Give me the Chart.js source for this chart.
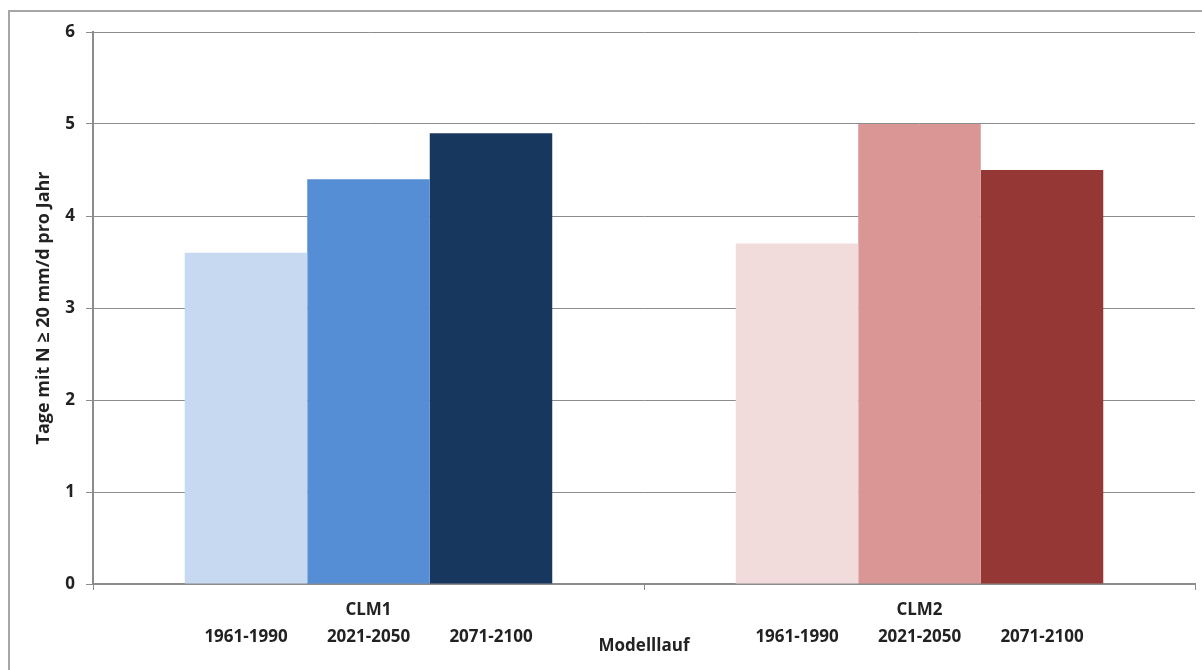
<!DOCTYPE html>
<html>
<head>
<meta charset="utf-8">
<script src="https://cdn.jsdelivr.net/npm/chart.js@4"></script>
<style>
    html, body { margin: 0; padding: 0; background: #fff; overflow: hidden; }
    #frame { position: absolute; left: 8px; top: 10px; width: 1400px; height: 800px; border: 2px solid #a6a6a6; box-sizing: border-box; }
    #wrap { position: absolute; left: 0; top: 0; width: 1202px; height: 670px; }
</style>
</head>
<body>
<div id="frame"></div>
<div id="wrap"><canvas id="chart" width="1202" height="670"></canvas></div>
<script>
    const models = ['CLM1', 'CLM2'];
    const periods = ['1961-1990', '2021-2050', '2071-2100'];
    const values1961 = [3.6, 3.7];
    const values2021 = [4.4, 5.0];
    const values2071 = [4.9, 4.5];
    const blues = ['#C6D9F1', '#558ED5', '#17375E'];
    const reds = ['#F2DCDB', '#D99694', '#953735'];

    const font = 'Open Sans';
    const textColor = '#222';
    const lineColor = '#8c8c8c';

    // period labels under each bar, placed from the bar elements
    const periodLabels = {
        id: 'periodLabels',
        afterDraw(chart) {
            const ctx = chart.ctx;
            ctx.save();
            ctx.font = 'bold 17px "' + font + '"';
            ctx.fillStyle = textColor;
            ctx.textAlign = 'center';
            ctx.textBaseline = 'middle';
            chart.data.datasets.forEach((ds, i) => {
                chart.getDatasetMeta(i).data.forEach(bar => {
                    ctx.fillText(ds.label, bar.x, 637);
                });
            });
            ctx.restore();
        }
    };

    const series = [values1961, values2021, values2071];
    new Chart(document.getElementById('chart').getContext('2d'), {
        type: 'bar',
        data: {
            labels: models,
            datasets: periods.map((p, i) => ({
                label: p,
                data: series[i],
                backgroundColor: [blues[i], reds[i]],
                borderWidth: 0,
                categoryPercentage: 0.667,
                barPercentage: 1.0
            }))
        },
        options: {
            responsive: false,
            devicePixelRatio: 1,
            animation: false,
            layout: { padding: { left: 0, right: 7, top: 32, bottom: 0 } },
            plugins: {
                legend: { display: false },
                tooltip: { enabled: false }
            },
            scales: {
                x: {
                    grid: { drawOnChartArea: false, offset: true, tickLength: 6, color: lineColor },
                    border: { color: lineColor, width: 2 },
                    ticks: { color: textColor, font: { family: font, size: 17, weight: 'bold' }, padding: 10 },
                    title: { display: true, text: 'Modelllauf', color: textColor, font: { family: font, size: 17, weight: 'bold' }, padding: { bottom: 14 } },
                    afterFit: scale => { scale.height = 86; }
                },
                y: {
                    min: 0,
                    max: 6,
                    ticks: { stepSize: 1, color: textColor, font: { family: font, size: 17, weight: 'bold' }, padding: 11 },
                    grid: { color: lineColor, tickLength: 7 },
                    border: { color: lineColor, width: 2 },
                    title: { display: true, text: 'Tage mit N ≥ 20 mm/d pro Jahr', color: textColor, font: { family: font, size: 18, weight: 'bold' }, padding: { top: 33 } },
                    afterFit: scale => { scale.width = 93; }
                }
            }
        },
        plugins: [periodLabels]
    });
</script>
</body>
</html>
